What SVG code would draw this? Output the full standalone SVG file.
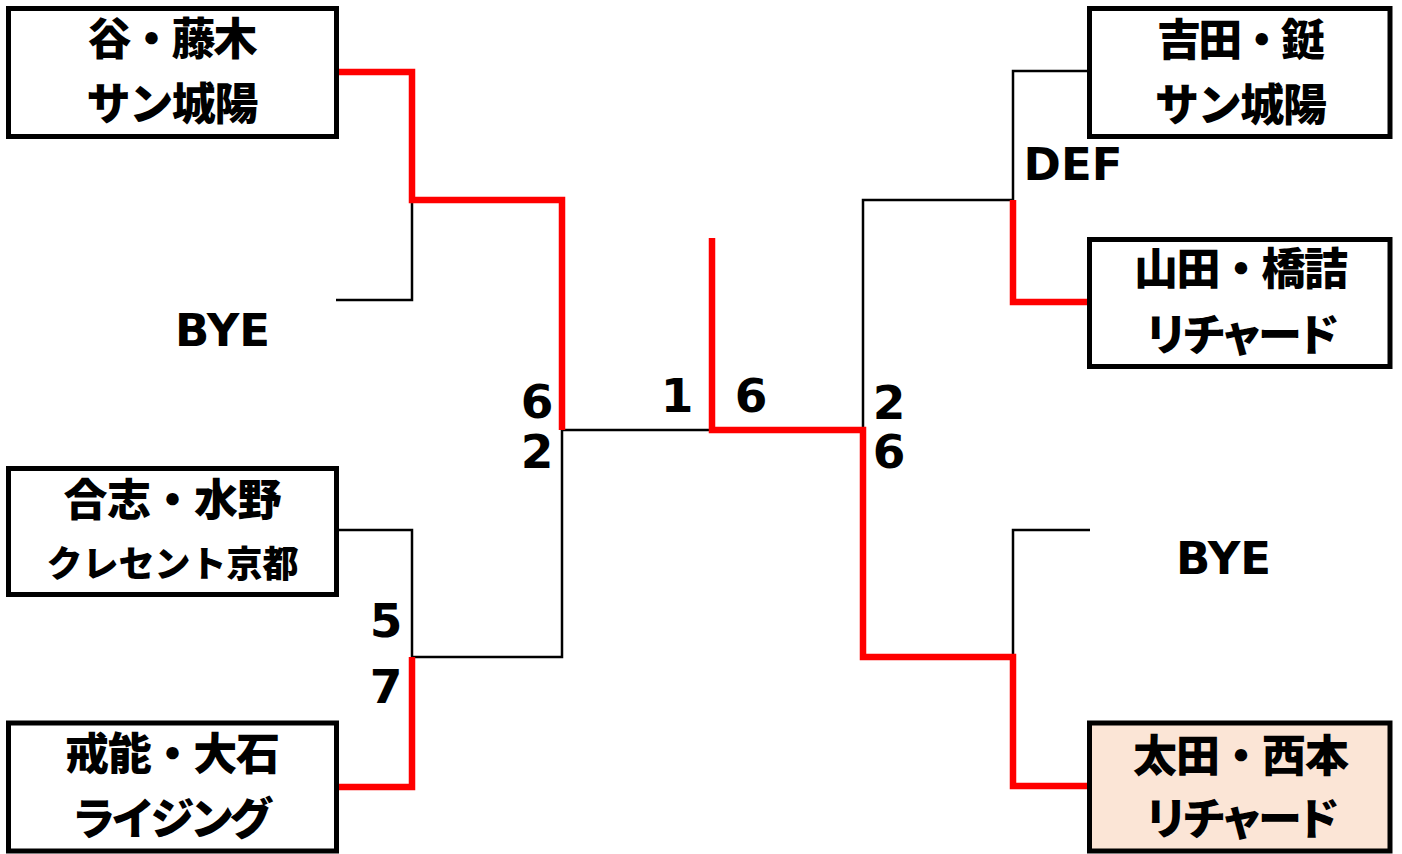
<svg xmlns="http://www.w3.org/2000/svg" width="1402" height="854" viewBox="0 0 1402 854">
<style>
.box{fill:#ffffff;stroke:#000000;stroke-width:5}
.win{fill:#FBE5D6;stroke:#000000;stroke-width:5}
.jp{font-family:"Noto Sans CJK JP","Noto Sans CJK SC",sans-serif;font-weight:900;font-size:44px;fill:#000;text-anchor:middle}
.jps{font-size:36px}
.lat{font-family:"DejaVu Sans","Liberation Sans",sans-serif;font-weight:bold;font-size:45px;fill:#000;text-anchor:middle}
.num{font-family:"DejaVu Sans","Liberation Sans",sans-serif;font-weight:bold;font-size:47px;fill:#000;text-anchor:middle}
.blk{fill:none;stroke:#000000;stroke-width:2.5}
.red{fill:none;stroke:#FF0000;stroke-width:6.5;stroke-linejoin:miter}
</style>
<rect width="1402" height="854" fill="#ffffff"/>
<g id="connectors">
<path class="blk" d="M336,300 H412 V200"/>
<path class="blk" d="M336,530 H412 V657 H562 V430 H712"/>
<path class="blk" d="M863,430 V200 H1013 V71 H1090"/>
<path class="blk" d="M1090,530 H1013 V657"/>
<path class="red" d="M336,72 H412 V200 H562 V430"/>
<path class="red" d="M336,787 H412 V657"/>
<path class="red" d="M712,238 V430 H863 V657 H1013 V786 H1090"/>
<path class="red" d="M1013,200 V302 H1090"/>
</g>
<g id="node-tani">
<rect class="box" x="8.5" y="8.5" width="328" height="128"/>
<text class="jp" x="172.5" y="55" textLength="170" lengthAdjust="spacing">谷・藤木</text>
<text class="jp" x="172.5" y="120" textLength="172" lengthAdjust="spacing">サン城陽</text>
</g>
<g id="node-bye-left">
<text class="lat" x="222.5" y="346">BYE</text>
</g>
<g id="node-goshi">
<rect class="box" x="8.5" y="468.5" width="328" height="126"/>
<text class="jp" x="172.5" y="515.5" textLength="218" lengthAdjust="spacing">合志・水野</text>
<text class="jp jps" x="172.5" y="577" textLength="252" lengthAdjust="spacing">クレセント京都</text>
</g>
<g id="node-kaino">
<rect class="box" x="8.5" y="723" width="328" height="128"/>
<text class="jp" x="172.5" y="769.5" textLength="215" lengthAdjust="spacing">戒能・大石</text>
<text class="jp" x="172.5" y="834.5" textLength="202" lengthAdjust="spacing">ライジング</text>
</g>
<g id="node-yoshida">
<rect class="box" x="1089.5" y="8.5" width="300.5" height="128"/>
<text class="jp" x="1241" y="55.5" textLength="168" lengthAdjust="spacing">吉田・鋌</text>
<text class="jp" x="1241" y="120.5" textLength="172" lengthAdjust="spacing">サン城陽</text>
</g>
<g id="node-yamada">
<rect class="box" x="1089.5" y="239.5" width="300.5" height="127"/>
<text class="jp" x="1241" y="284.5" textLength="214" lengthAdjust="spacing">山田・橋詰</text>
<text class="jp" x="1242" y="350.5" textLength="196" lengthAdjust="spacing">リチャード</text>
</g>
<g id="node-bye-right">
<text class="lat" x="1223.5" y="574">BYE</text>
</g>
<g id="node-ota">
<rect class="win" x="1089.5" y="723" width="300.5" height="128"/>
<text class="jp" x="1241" y="771.5" textLength="216" lengthAdjust="spacing">太田・西本</text>
<text class="jp" x="1242" y="834.5" textLength="196" lengthAdjust="spacing">リチャード</text>
</g>
<g id="scores">
<text class="lat" x="1073" y="180">DEF</text>
<text class="num" x="537" y="418">6</text>
<text class="num" x="537" y="468">2</text>
<text class="num" x="677" y="412">1</text>
<text class="num" x="751" y="412">6</text>
<text class="num" x="889" y="419">2</text>
<text class="num" x="889" y="468">6</text>
<text class="num" x="386" y="637">5</text>
<text class="num" x="386" y="703">7</text>
</g>
</svg>
